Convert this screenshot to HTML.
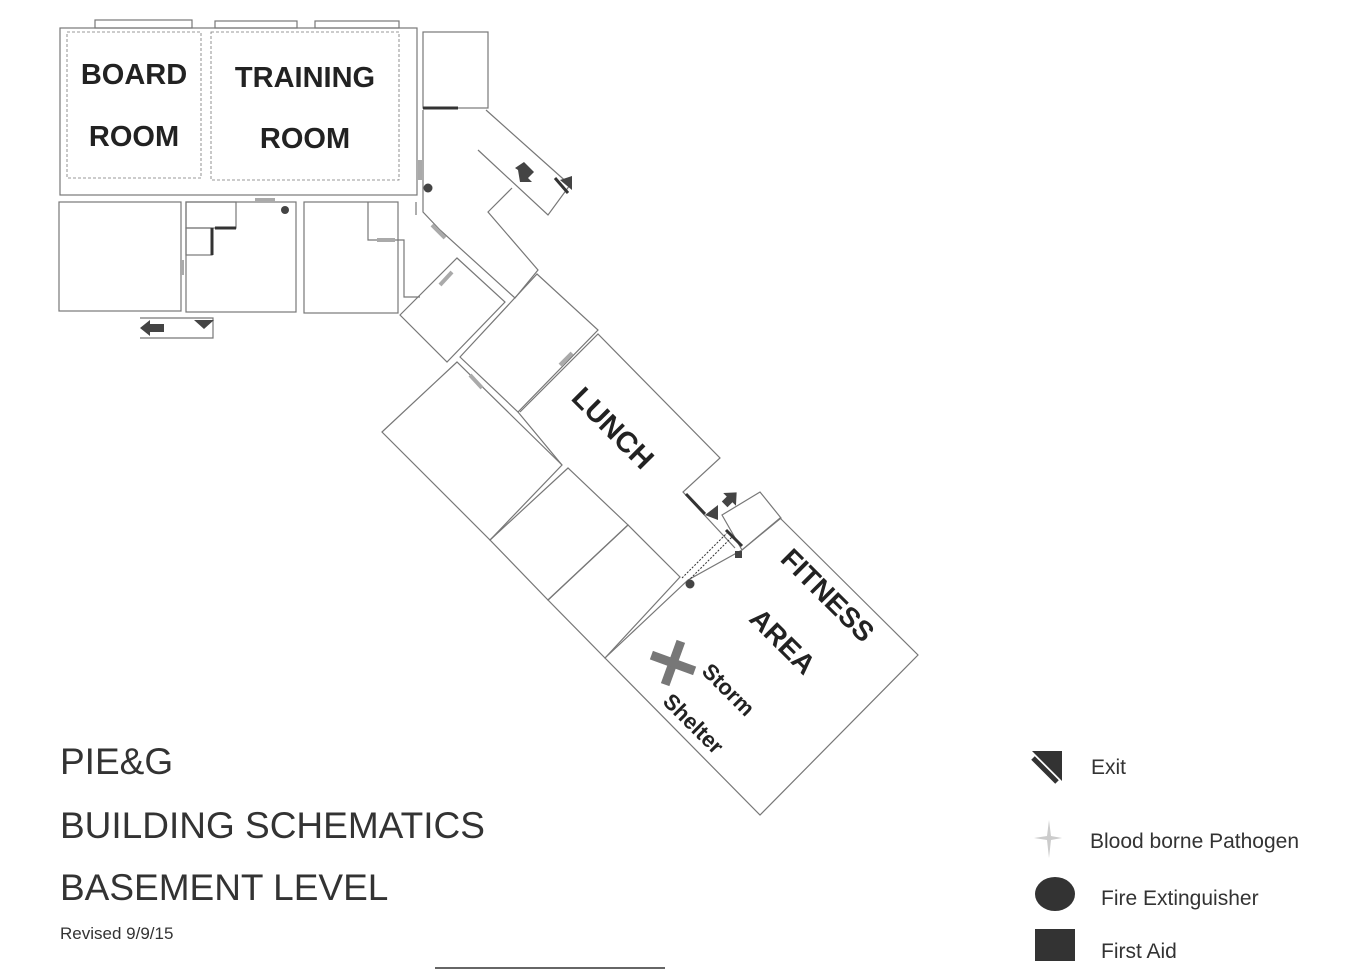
<!DOCTYPE html>
<html><head><meta charset="utf-8"><style>
html,body{margin:0;padding:0;background:#fff;}
body{width:1363px;height:970px;overflow:hidden;position:relative;font-family:"Liberation Sans","DejaVu Sans",sans-serif;}
svg{position:absolute;left:0;top:0;}
</style></head><body>
<svg width="1363" height="970" viewBox="0 0 1363 970" xmlns="http://www.w3.org/2000/svg">
<g fill="none" stroke="#777" stroke-width="1.2">
<rect x="60" y="28" width="357" height="167"/>
<rect x="95" y="20" width="97" height="8"/>
<rect x="215" y="21" width="82" height="7"/>
<rect x="315" y="21" width="84" height="7"/>
<rect x="67" y="32" width="134" height="146" stroke-dasharray="3,2" stroke-width="0.8"/>
<rect x="211" y="32" width="188" height="148" stroke-dasharray="3,2" stroke-width="0.8"/>
<rect x="423" y="32" width="65" height="76"/>
<rect x="59" y="202" width="122" height="109"/>
<rect x="186" y="202" width="110" height="110"/>
<rect x="186" y="202" width="50" height="26"/>
<rect x="186" y="228" width="26" height="27"/>
<rect x="304" y="202" width="94" height="111"/>
<polyline points="368,202 368,240 404,240 404,297 420,297"/>
<polyline points="416,202 416,215"/>
<polyline points="140,318 213,318 213,338 140,338"/>
<polyline points="423,110 423,212 440,230 515,298 538,270 488,212 512,188"/>
<polyline points="486,110 570,185 548,215 478,150"/>
<polygon points="400,315 457,258 505,302 447,362"/>
<polygon points="460,357 537,274 598,330 518,412"/>
<polyline points="520,412 598,334 720,458 683,492 735,548"/>
<polyline points="518,412 562,465"/>
<polygon points="382,432 457,362 562,465 490,540"/>
<polygon points="490,540 568,468 628,525 548,600"/>
<polygon points="548,600 628,525 680,577 605,658"/>
<polygon points="605,658 688,580 742,550 780,518 918,655 760,815"/>
<polygon points="722,515 760,492 781,518 742,550"/>
</g>
<g stroke="#aaa" stroke-width="4">
<line x1="255" y1="200" x2="275" y2="200"/>
<line x1="377" y1="240" x2="395" y2="240"/>
<line x1="182" y1="260" x2="182" y2="275"/>
<line x1="420" y1="160" x2="420" y2="180"/>
<line x1="432" y1="225" x2="445" y2="238"/>
<line x1="440" y1="285" x2="452" y2="272"/>
<line x1="470" y1="375" x2="482" y2="388"/>
<line x1="560" y1="365" x2="572" y2="353"/>
</g>
<g stroke="#333" stroke-width="3">
<line x1="423" y1="108" x2="458" y2="108"/>
<line x1="555" y1="178" x2="568" y2="193"/>
<line x1="686" y1="494" x2="705" y2="514"/>
<line x1="726" y1="530" x2="742" y2="546"/>
<line x1="215" y1="228" x2="236" y2="228"/>
<line x1="212" y1="228" x2="212" y2="255"/>
</g>
<line x1="682" y1="578" x2="727" y2="533" stroke="#333" stroke-width="1" stroke-dasharray="2,1.5"/>
<line x1="688" y1="581" x2="733" y2="536" stroke="#333" stroke-width="1" stroke-dasharray="2,1.5"/>
<g fill="#444">
<circle cx="428" cy="188" r="4.5"/>
<circle cx="285" cy="210" r="4"/>
<circle cx="690" cy="584" r="4.5"/>
<rect x="735" y="551" width="7" height="7"/>
<polygon points="560,180 572,176 572,190"/>
<polygon points="194,320 214,320 204,329"/>
<polygon points="705,515 718,505 718,520"/>
<polygon points="140,328 150,320 150,324 164,324 164,332 150,332 150,336"/>
<polygon points="515,168 524,162 534,172 528,178 532,182 520,182 518,170" />
<polygon points="731,490 740,500 735,500 735,507 727,507 727,500 722,500" transform="rotate(45 731 498)"/>
</g>
<g stroke="#777" stroke-width="9">
<line x1="673" y1="640" x2="673" y2="686" transform="rotate(20 673 663)"/>
<line x1="650" y1="663" x2="696" y2="663" transform="rotate(20 673 663)"/>
</g>
<g font-weight="bold" fill="#222" font-family="Liberation Sans, sans-serif">
<text x="134" y="84" font-size="29" text-anchor="middle">BOARD</text>
<text x="134" y="146" font-size="29" text-anchor="middle">ROOM</text>
<text x="305" y="87" font-size="29" text-anchor="middle">TRAINING</text>
<text x="305" y="148" font-size="29" text-anchor="middle">ROOM</text>
<text x="613" y="438" font-size="29" text-anchor="middle" transform="rotate(45 613 428)">LUNCH</text>
<text x="828" y="605" font-size="28" text-anchor="middle" transform="rotate(45 828 595)">FITNESS</text>
<text x="783" y="651" font-size="28" text-anchor="middle" transform="rotate(45 783 641)">AREA</text>
<text x="728" y="697" font-size="22" text-anchor="middle" transform="rotate(45 728 690)">Storm</text>
<text x="693" y="731" font-size="22" text-anchor="middle" transform="rotate(45 693 724)">Shelter</text>
</g>
<g fill="#333">
<text x="60" y="774" font-size="37">PIE&amp;G</text>
<text x="60" y="838" font-size="37">BUILDING SCHEMATICS</text>
<text x="60" y="900" font-size="37">BASEMENT LEVEL</text>
<text x="60" y="939" font-size="17">Revised 9/9/15</text>
<text x="1091" y="774" font-size="21">Exit</text>
<text x="1090" y="848" font-size="21">Blood borne Pathogen</text>
<text x="1101" y="905" font-size="21">Fire Extinguisher</text>
<text x="1101" y="958" font-size="21">First Aid</text>
</g>
<polygon points="1032,751 1062,751 1062,781" fill="#333"/>
<line x1="1033" y1="758" x2="1057" y2="782" stroke="#333" stroke-width="5"/>
<path d="M1049,820 L1051,836 L1062,838 L1051,840 L1049,858 L1047,840 L1034,838 L1047,836Z" fill="#ccc"/>
<ellipse cx="1055" cy="894" rx="20" ry="17" fill="#333"/>
<rect x="1035" y="929" width="40" height="32" fill="#333"/>
<line x1="435" y1="968" x2="665" y2="968" stroke="#666" stroke-width="2"/>
</svg>
</body></html>
